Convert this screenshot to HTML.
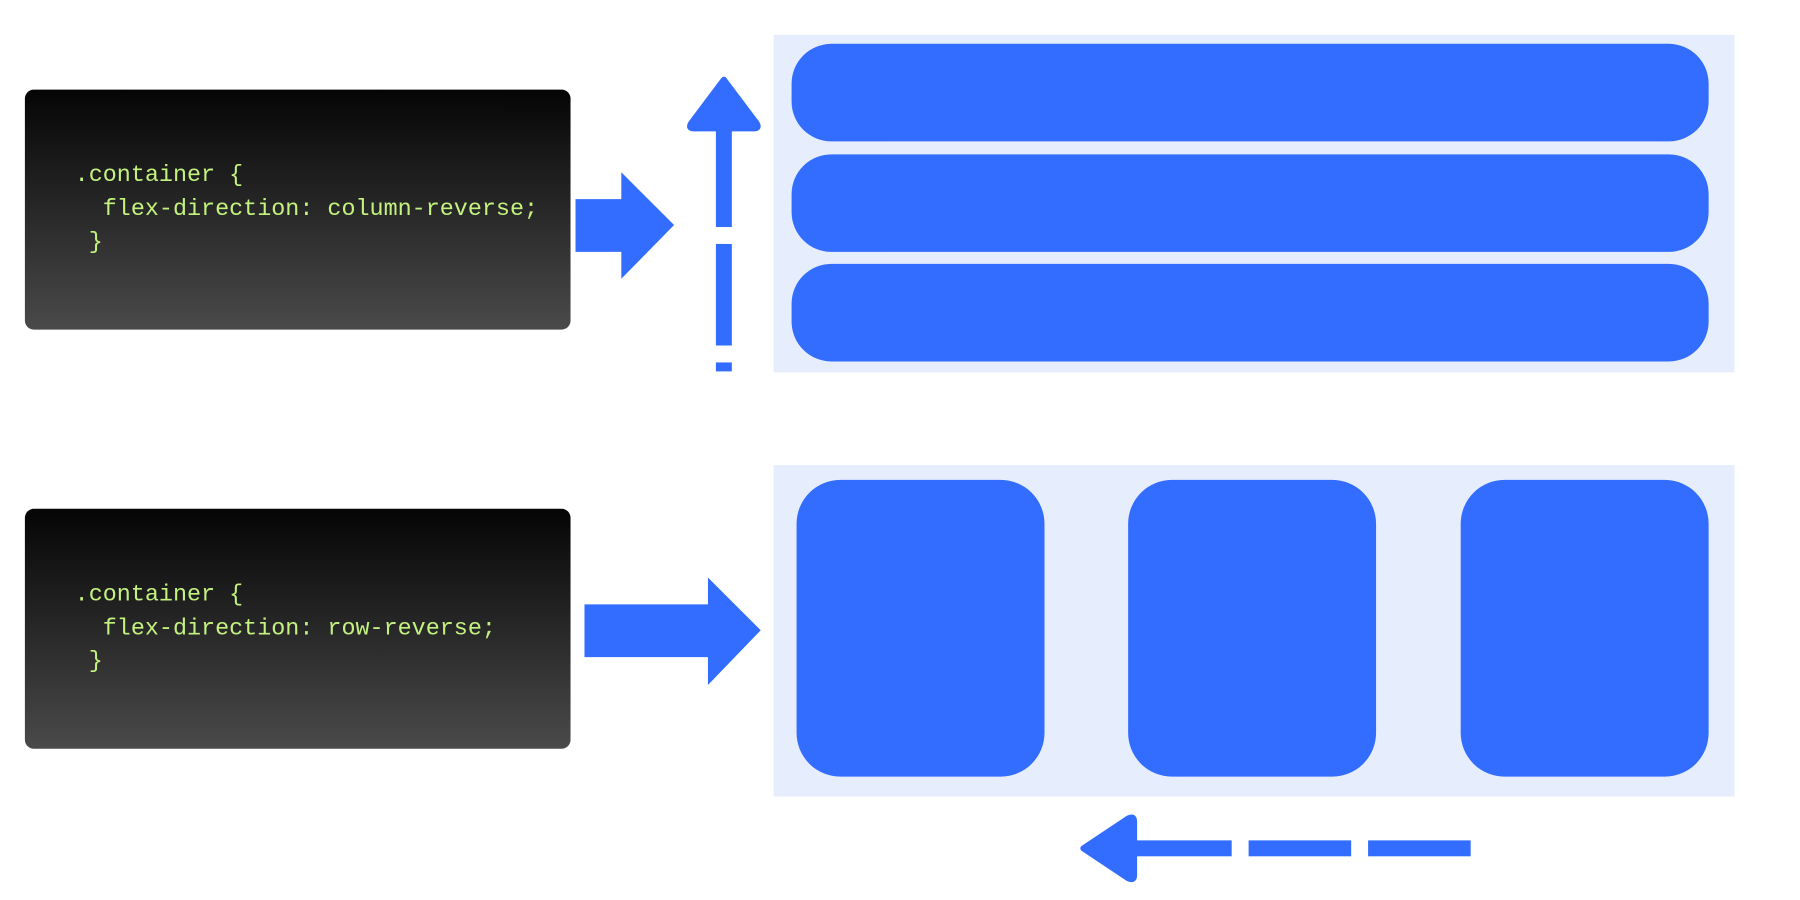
<!DOCTYPE html>
<html><head><style>
body{margin:0;width:1800px;height:900px;background:#fff;position:relative;overflow:hidden}
#w{position:absolute;left:0;top:0;width:1800px;height:900px;transform:scale(0.9957);transform-origin:0 0}
.code{position:absolute;left:25px;width:548px;height:241px;border-radius:9px;background:linear-gradient(#050505,#4a4a4a)}
.code pre{margin:0;position:absolute;left:50px;font-family:"Liberation Mono",monospace;font-size:23.5px;line-height:33.5px;color:#c3f27e}
.b{position:absolute;background:#336dff}
</style></head><body><div id="w">
<div class="code" style="top:90px"><pre style="top:70px">.container {
  flex-direction: column-reverse;
 }</pre></div>
<div class="code" style="top:511px"><pre style="top:70px">.container {
  flex-direction: row-reverse;
 }</pre></div>
<div style="position:absolute;left:777px;top:35px;width:965px;height:339px;background:#e6edfd"></div>
<div class="b" style="left:795px;top:44px;width:921px;height:98px;border-radius:40px"></div>
<div class="b" style="left:795px;top:155px;width:921px;height:98px;border-radius:40px"></div>
<div class="b" style="left:795px;top:265px;width:921px;height:98px;border-radius:40px"></div>
<div style="position:absolute;left:777px;top:467px;width:965px;height:333px;background:#e6edfd"></div>
<div class="b" style="left:800px;top:482px;width:249px;height:298px;border-radius:44px"></div>
<div class="b" style="left:1133px;top:482px;width:249px;height:298px;border-radius:44px"></div>
<div class="b" style="left:1467px;top:482px;width:249px;height:298px;border-radius:44px"></div>
<svg width="1800" height="900" style="position:absolute;left:0;top:0">
<g fill="#336dff">
<polygon points="578,200 624,200 624,173 677,226 624,280 624,253 578,253"/>
<polygon points="587,607 711,607 711,580 764,633 711,688 711,660 587,660"/>
<path d="M727,80 L760,124 Q763,129 757,129 L697,129 Q691,129 694,124 Z" stroke="#336dff" stroke-width="6" stroke-linejoin="round"/>
<rect x="719" y="128" width="16" height="100"/>
<rect x="719" y="245" width="16" height="102"/>
<rect x="719" y="364" width="16" height="9"/>
<path d="M1088,852 L1133,822 Q1139,819 1139,825 L1139,879 Q1139,885 1133,882 Z" stroke="#336dff" stroke-width="6" stroke-linejoin="round"/>
<rect x="1138" y="844" width="99" height="16"/>
<rect x="1254" y="844" width="103" height="16"/>
<rect x="1374" y="844" width="103" height="16"/>
</g></svg>
</div></body></html>
